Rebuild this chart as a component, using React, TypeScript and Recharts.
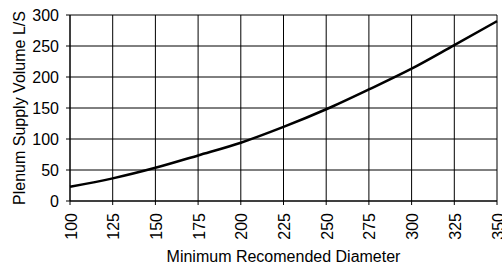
import { CartesianGrid, Line, LineChart, XAxis, YAxis } from "recharts";

const diameters = [100, 125, 150, 175, 200, 225, 250, 275, 300, 325, 350];
const volumes = [23, 36.5, 53.5, 73.5, 94, 119.5, 148, 180, 213.5, 251.5, 290];
const xTicks = [100, 125, 150, 175, 200, 225, 250, 275, 300, 325, 350];
const yTicks = [0, 50, 100, 150, 200, 250, 300];

const data = diameters.map((d, i) => ({ diameter: d, volume: volumes[i] }));

const font = "'Liberation Sans', Arial, sans-serif";

function RotatedTick(props: any) {
  const { x, y, payload } = props;
  return (
    <text
      transform={`translate(${x + 1},${y + 6}) rotate(-90)`}
      textAnchor="end"
      dominantBaseline="central"
      fontSize={16}
      fontFamily={font}
      fill="#000"
    >
      {payload.value}
    </text>
  );
}

export default function App() {
  return (
    <div style={{ position: "absolute", left: 0, top: 0, background: "#fff" }}>
      <LineChart
        width={502}
        height={268}
        data={data}
        margin={{ top: 15, right: 5, bottom: 0, left: 0 }}
      >
        <CartesianGrid stroke="#000" strokeWidth={1} />
        <XAxis
          dataKey="diameter"
          type="number"
          domain={[100, 350]}
          ticks={xTicks}
          interval={0}
          height={67}
          stroke="#000"
          tickSize={4}
          tick={<RotatedTick />}
          label={{
            value: "Minimum Recomended Diameter",
            position: "insideBottom",
            offset: 6,
            fill: "#000",
            fontSize: 16,
            fontFamily: font,
          }}
        />
        <YAxis
          type="number"
          domain={[0, 300]}
          ticks={yTicks}
          interval={0}
          width={70}
          stroke="#000"
          tickSize={4}
          tickMargin={7}
          tick={{ fill: "#000", fontSize: 16, fontFamily: font }}
          label={{
            value: "Plenum Supply Volume L/S",
            angle: -90,
            position: "insideLeft",
            offset: 19,
            fill: "#000",
            fontSize: 16,
            fontFamily: font,
            style: { textAnchor: "middle" },
          }}
        />
        <Line
          dataKey="volume"
          type="monotone"
          stroke="#000"
          strokeWidth={2.5}
          dot={false}
          isAnimationActive={false}
        />
      </LineChart>
    </div>
  );
}
